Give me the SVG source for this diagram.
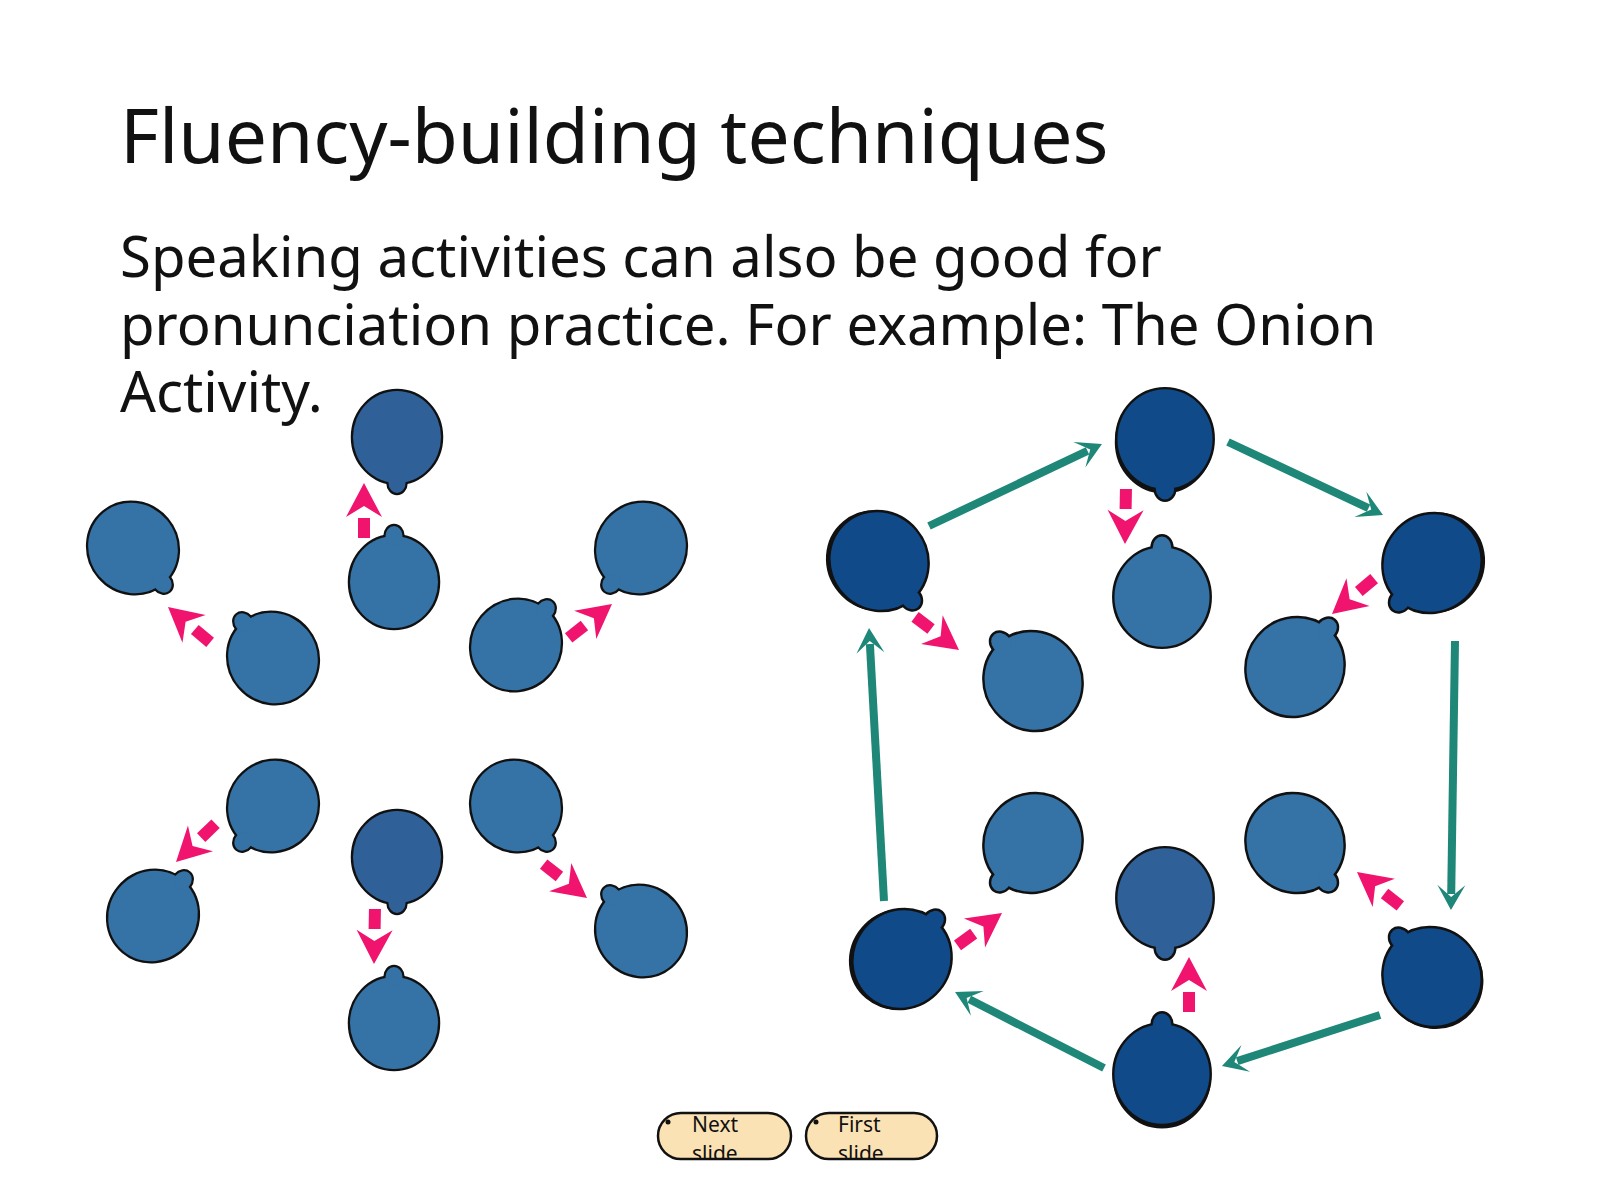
<svg xmlns="http://www.w3.org/2000/svg" xmlns:xlink="http://www.w3.org/1999/xlink" width="1600" height="1199" viewBox="0 0 1600 1199">
<style>
.t{font-family:"Noto Sans","Open Sans","DejaVu Sans",sans-serif;fill:#111}
.ho{stroke:#111;stroke-width:4.5}
.hs2{stroke:#111;stroke-width:3}
.hf{stroke:none}
.lt{fill:#3572a5}
.md{fill:#2f6098}
.dk{fill:#114a88}
.pk{fill:#f0146e}
.tl{stroke:#1e8778;stroke-width:8;fill:none;marker-end:url(#ta)}
.btn{fill:#fbe2b4;stroke:#111;stroke-width:2.5}
.bt{font-family:"Noto Sans","Open Sans",sans-serif;font-size:21px;fill:#111}
</style>
<defs>
<g id="hs"><ellipse cx="0" cy="0" rx="44" ry="46"/><ellipse cx="0" cy="46" rx="8.5" ry="10"/></g>
<g id="pa"><path d="M0,0 L-34,-18 L-23,0 L-34,18 Z"/><rect x="-55" y="-6" width="20" height="12"/></g>
<marker id="ta" markerUnits="userSpaceOnUse" markerWidth="30" markerHeight="32" viewBox="-12 -16 30 32" refX="0" refY="0" orient="auto">
<path d="M16,0 L-9,-14 L3,0 L-9,14 Z" fill="#1e8778"/>
</marker>
<clipPath id="c1"><rect x="658" y="1113" width="133" height="46" rx="23"/></clipPath>
<clipPath id="c2"><rect x="806" y="1113" width="131" height="46" rx="23"/></clipPath>
</defs>
<rect width="1600" height="1199" fill="#ffffff"/>
<text class="t" x="120" y="163" font-size="75">Fluency-building techniques</text>
<text class="t" x="120" y="277" font-size="56.3">Speaking activities can also be good for</text>
<text class="t" x="120" y="345" font-size="56.3">pronunciation practice. For example: The Onion</text>
<text class="t" x="120" y="412" font-size="56.3">Activity.</text>

<g id="connectors">
<line class="tl" x1="929" y1="526" x2="1087.5" y2="450.9"/>
<line class="tl" x1="1228" y1="442" x2="1368.5" y2="508.2"/>
<line class="tl" x1="1455" y1="641" x2="1451.2" y2="894"/>
<line class="tl" x1="1380" y1="1015" x2="1237.2" y2="1061.1"/>
<line class="tl" x1="1104" y1="1068" x2="969.3" y2="999.3"/>
<line class="tl" x1="884" y1="901" x2="869.9" y2="644"/>
<g class="pk">
<use href="#pa" transform="translate(168,607) rotate(-140)"/>
<use href="#pa" transform="translate(364,483) rotate(-90)"/>
<use href="#pa" transform="translate(612,604) rotate(-38)"/>
<use href="#pa" transform="translate(176,862) rotate(136)"/>
<use href="#pa" transform="translate(374,964) rotate(91)"/>
<use href="#pa" transform="translate(587,898) rotate(38)"/>
<use href="#pa" transform="translate(1125,544) rotate(91)"/>
<use href="#pa" transform="translate(959,650) rotate(37)"/>
<use href="#pa" transform="translate(1332,614) rotate(140)"/>
<use href="#pa" transform="translate(1002,913) rotate(-36)"/>
<use href="#pa" transform="translate(1189,957) rotate(-90)"/>
<use href="#pa" transform="translate(1357,872) rotate(-142)"/>
</g>
</g>

<g id="h1" class="md" transform="translate(397,437) rotate(0)"><use href="#hs" class="ho"/><use href="#hs" class="hf"/></g>
<g id="h2" class="lt" transform="translate(133,548) rotate(-40)"><use href="#hs" class="ho"/><use href="#hs" class="hf"/></g>
<g id="h3" class="lt" transform="translate(273,658) rotate(140)"><use href="#hs" class="ho"/><use href="#hs" class="hf"/></g>
<g id="h4" class="lt" transform="translate(394,582) rotate(180)"><use href="#hs" class="ho"/><use href="#hs" class="hf"/></g>
<g id="h5" class="lt" transform="translate(516,645) rotate(-140)"><use href="#hs" class="ho"/><use href="#hs" class="hf"/></g>
<g id="h6" class="lt" transform="translate(641,548) rotate(40)"><use href="#hs" class="ho"/><use href="#hs" class="hf"/></g>
<g id="h7" class="lt" transform="translate(273,806) rotate(40)"><use href="#hs" class="ho"/><use href="#hs" class="hf"/></g>
<g id="h8" class="lt" transform="translate(153,916) rotate(-140)"><use href="#hs" class="ho"/><use href="#hs" class="hf"/></g>
<g id="h9" class="md" transform="translate(397,857) rotate(0)"><use href="#hs" class="ho"/><use href="#hs" class="hf"/></g>
<g id="h10" class="lt" transform="translate(394,1023) rotate(180)"><use href="#hs" class="ho"/><use href="#hs" class="hf"/></g>
<g id="h11" class="lt" transform="translate(516,806) rotate(-40)"><use href="#hs" class="ho"/><use href="#hs" class="hf"/></g>
<g id="h12" class="lt" transform="translate(641,931) rotate(140)"><use href="#hs" class="ho"/><use href="#hs" class="hf"/></g>

<g id="hA" class="dk" transform="translate(1165,439) scale(1.08)"><ellipse cx="-1" cy="3" rx="44" ry="46" class="hs2"/><use href="#hs" class="ho"/><use href="#hs" class="hf"/></g>
<g id="hB" class="dk" transform="translate(879,561) scale(1.08) rotate(-40)"><ellipse cx="-2" cy="-2" rx="44" ry="46" class="hs2"/><use href="#hs" class="ho"/><use href="#hs" class="hf"/></g>
<g id="hC" class="dk" transform="translate(1432,563) scale(1.08) rotate(40)"><ellipse cx="2" cy="-2" rx="44" ry="46" class="hs2"/><use href="#hs" class="ho"/><use href="#hs" class="hf"/></g>
<g id="hD" class="dk" transform="translate(902,959) scale(1.08) rotate(-140)"><ellipse cx="2" cy="-2" rx="44" ry="46" class="hs2"/><use href="#hs" class="ho"/><use href="#hs" class="hf"/></g>
<g id="hE" class="dk" transform="translate(1162,1074) scale(1.08) rotate(180)"><ellipse cx="0" cy="-3" rx="44" ry="46" class="hs2"/><use href="#hs" class="ho"/><use href="#hs" class="hf"/></g>
<g id="hF" class="dk" transform="translate(1432,977) scale(1.08) rotate(140)"><ellipse cx="0" cy="-2" rx="44" ry="46" class="hs2"/><use href="#hs" class="ho"/><use href="#hs" class="hf"/></g>
<g id="ha" class="lt" transform="translate(1162,597) scale(1.08) rotate(180)"><use href="#hs" class="ho"/><use href="#hs" class="hf"/></g>
<g id="hb" class="lt" transform="translate(1033,681) scale(1.08) rotate(140)"><use href="#hs" class="ho"/><use href="#hs" class="hf"/></g>
<g id="hc" class="lt" transform="translate(1295,667) scale(1.08) rotate(-140)"><use href="#hs" class="ho"/><use href="#hs" class="hf"/></g>
<g id="hd" class="lt" transform="translate(1033,843) scale(1.08) rotate(40)"><use href="#hs" class="ho"/><use href="#hs" class="hf"/></g>
<g id="he" class="lt" transform="translate(1295,843) scale(1.08) rotate(-40)"><use href="#hs" class="ho"/><use href="#hs" class="hf"/></g>
<g id="hf" class="md" transform="translate(1165,898) scale(1.08) rotate(0)"><use href="#hs" class="ho"/><use href="#hs" class="hf"/></g>

<g id="btnNext">
<rect class="btn" x="658" y="1113" width="133" height="46" rx="23"/>
<circle cx="668" cy="1122" r="2.5" fill="#111"/>
<g clip-path="url(#c1)"><text class="bt" x="692" y="1132">Next</text><text class="bt" x="692" y="1161">slide</text></g>
</g>
<g id="btnFirst">
<rect class="btn" x="806" y="1113" width="131" height="46" rx="23"/>
<circle cx="816" cy="1122" r="2.5" fill="#111"/>
<g clip-path="url(#c2)"><text class="bt" x="838" y="1132">First</text><text class="bt" x="838" y="1161">slide</text></g>
</g>
</svg>
